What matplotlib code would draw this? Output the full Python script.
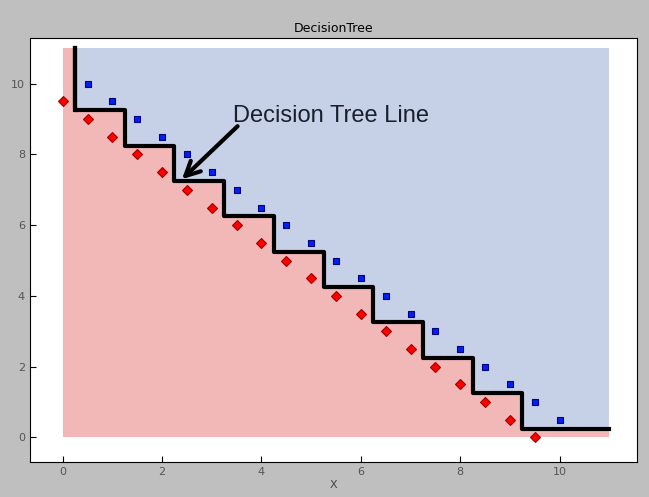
import numpy as np
import matplotlib
matplotlib.use('Agg')
import matplotlib.pyplot as plt

# class 0 (red diamonds) and class 1 (blue squares)
red_x = [0, 0.5, 1, 1.5, 2, 2.5, 3, 3.5, 4, 4.5, 5, 5.5, 6, 6.5, 7, 7.5, 8, 8.5, 9, 9.5]
red_y = [9.5, 9, 8.5, 8, 7.5, 7, 6.5, 6, 5.5, 5, 4.5, 4, 3.5, 3, 2.5, 2, 1.5, 1, 0.5, 0]
blue_x = [0.5, 1, 1.5, 2, 2.5, 3, 3.5, 4, 4.5, 5, 5.5, 6, 6.5, 7, 7.5, 8, 8.5, 9, 9.5, 10]
blue_y = [10, 9.5, 9, 8.5, 8, 7.5, 7, 6.5, 6, 5.5, 5, 4.5, 4, 3.5, 3, 2.5, 2, 1.5, 1, 0.5]

# decision tree boundary (staircase), split points
step_x = [0.25, 1.25, 2.25, 3.25, 4.25, 5.25, 6.25, 7.25, 8.25, 9.25, 11]
step_y = [11, 9.25, 8.25, 7.25, 6.25, 5.25, 4.25, 3.25, 2.25, 1.25, 0.25]
region_min, region_max = 0, 11

fig = plt.figure(figsize=(6.49, 4.97), dpi=100, facecolor='#bfbfbf')
ax = fig.add_axes([0.046, 0.070, 0.935, 0.854])

# background regions
bx = [region_min] + step_x
by = [step_y[0]] + step_y
ax.fill_between(bx, region_min, by, step='pre', color='#f2b8b8', lw=0)
ax.fill_between(bx, by, region_max, step='pre', color='#c6d0e6', lw=0)

# staircase line
ax.step(step_x, step_y, where='pre', color='black', lw=3)
ax.plot([step_x[0], step_x[0]], [region_max, step_y[1]], color='black', lw=3)

ax.plot(red_x, red_y, 'D', color='red', mec='#a00000', ms=5.5, mew=0.8)
ax.plot(blue_x, blue_y, 's', color='#0022ee', mec='#000080', ms=4.5, mew=0.8)

# arrow + label
ax.annotate('', xy=(2.4, 7.3), xytext=(3.52, 8.8),
            arrowprops=dict(arrowstyle='->', lw=3, color='black',
                            shrinkA=0, shrinkB=0, mutation_scale=26))
ax.text(3.42, 8.92, 'Decision Tree Line', fontsize=17, family='Liberation Sans',
        color='#1a1f2e')

ax.set_xlim(-0.66, 11.55)
ax.set_ylim(-0.7, 11.3)
ax.set_xticks([0, 2, 4, 6, 8, 10])
ax.set_yticks([0, 2, 4, 6, 8, 10])
ax.tick_params(labelsize=8, labelcolor='#555555', direction='in', length=4)
ax.set_title('DecisionTree', fontsize=9, pad=4)
ax.set_xlabel('X', fontsize=8, color='#444444', labelpad=2)

fig.savefig('out.png', dpi=100, facecolor=fig.get_facecolor())
